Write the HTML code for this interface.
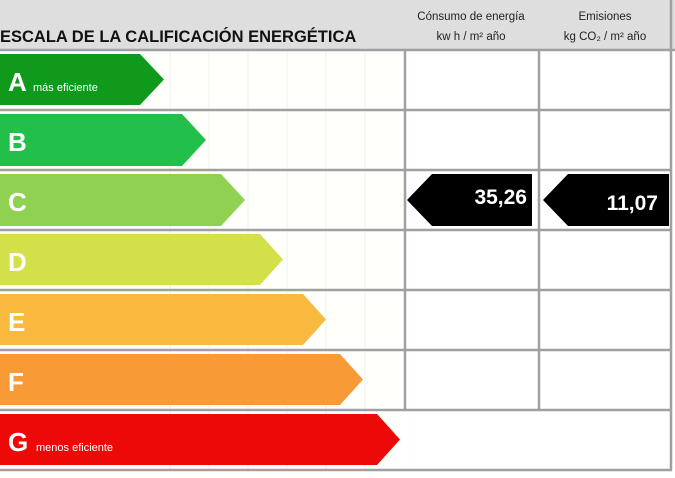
<!DOCTYPE html>
<html><head><meta charset="utf-8"><style>
html,body{margin:0;padding:0;background:#fff}
body{width:675px;height:473px;overflow:hidden;font-family:"Liberation Sans",sans-serif}
</style></head><body>
<svg width="675" height="473" xmlns="http://www.w3.org/2000/svg" font-family="Liberation Sans, sans-serif">
<rect x="0" y="0" width="675" height="50" fill="#dedede"/>
<rect x="0" y="50" width="404" height="423" fill="#fffffb"/>
<g stroke="#f2f2ea" stroke-width="1">
<line x1="170" y1="50" x2="170" y2="470"/><line x1="209" y1="50" x2="209" y2="470"/><line x1="248" y1="50" x2="248" y2="470"/><line x1="287" y1="50" x2="287" y2="470"/><line x1="326" y1="50" x2="326" y2="470"/><line x1="365" y1="50" x2="365" y2="470"/>
</g>
<g stroke="#a0a0a0" stroke-width="2.5" fill="none">
<line x1="0" y1="50" x2="675" y2="50"/>
<line x1="0" y1="110" x2="672" y2="110"/>
<line x1="0" y1="170" x2="672" y2="170"/>
<line x1="0" y1="230" x2="672" y2="230"/>
<line x1="0" y1="290" x2="672" y2="290"/>
<line x1="0" y1="350" x2="672" y2="350"/>
<line x1="0" y1="410" x2="672" y2="410"/>
<line x1="0" y1="470" x2="672" y2="470"/>
<line x1="405" y1="50" x2="405" y2="410"/>
<line x1="539" y1="50" x2="539" y2="410"/>
<line x1="671" y1="0" x2="671" y2="470"/>
</g>
<g>
<polygon points="0,54 140,54 164,79.5 140,105 0,105" fill="#0f9a1c"/>
<polygon points="0,114 182,114 206,140 182,166 0,166" fill="#22c04b"/>
<polygon points="0,174 221,174 245,200 221,226 0,226" fill="#8fd151"/>
<polygon points="0,234 260,234 283,259.5 260,285 0,285" fill="#d3e04a"/>
<polygon points="0,294 303,294 326,319.5 303,345 0,345" fill="#f8b93e"/>
<polygon points="0,354 340,354 363,379.5 340,405 0,405" fill="#f89b36"/>
<polygon points="0,414 377,414 400,439.5 377,465 0,465" fill="#ee0909"/>
</g>
<g fill="#fff" font-weight="bold" font-size="26">
<text x="8" y="91">A</text><text x="8" y="151">B</text><text x="8" y="211">C</text>
<text x="8" y="271">D</text><text x="8" y="331">E</text><text x="8" y="391">F</text><text x="8" y="451">G</text>
</g>
<text x="33" y="91" fill="#fff" font-size="11">más eficiente</text>
<text x="36" y="451" fill="#fff" font-size="11">menos eficiente</text>
<text x="0" y="42" font-size="16.5" font-weight="bold" fill="#111">ESCALA DE LA CALIFICACIÓN ENERGÉTICA</text>
<g font-size="11.5" fill="#222" text-anchor="middle">
<text x="471" y="20">Cónsumo de energía</text>
<text x="471" y="40">kw h / m² año</text>
<text x="605" y="20">Emisiones</text>
<text x="605" y="40">kg CO₂ / m² año</text>
</g>
<polygon points="407,200 432,174 532,174 532,226 432,226" fill="#000"/>
<polygon points="543,200 568,174 669,174 669,226 568,226" fill="#000"/>
<g fill="#fff" font-weight="bold" font-size="21" text-anchor="end">
<text x="527" y="204">35,26</text>
<text x="658" y="210">11,07</text>
</g>
</svg>
</body></html>
